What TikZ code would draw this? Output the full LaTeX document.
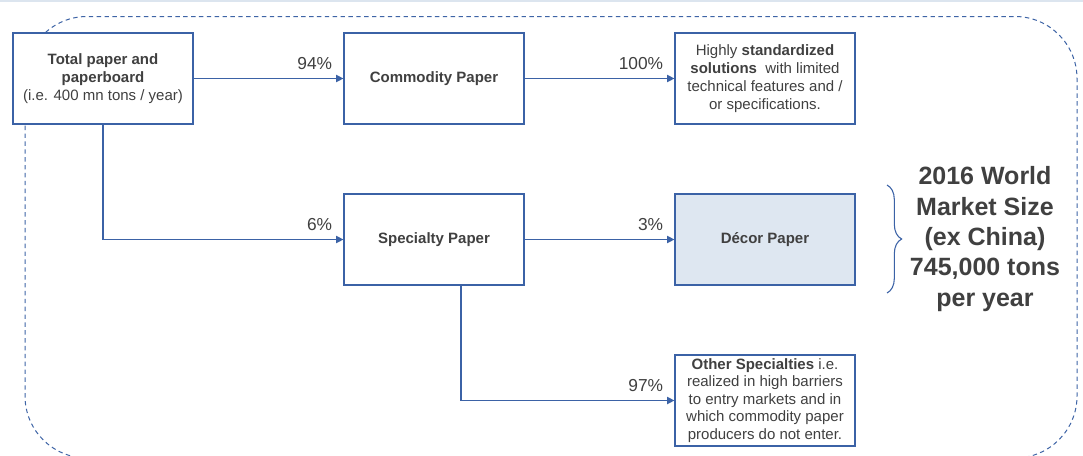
\documentclass[tikz,border=0pt]{standalone}
\usepackage{fontspec}
\setmainfont{Liberation Sans}
\usetikzlibrary{arrows.meta,decorations.pathreplacing}
\definecolor{lineblue}{HTML}{3B62A6}
\definecolor{dashblue}{HTML}{3E64A6}
\definecolor{txtgray}{HTML}{404040}
\definecolor{decorfill}{HTML}{DEE7F1}
\definecolor{topline}{HTML}{DCE5EF}
\tikzset{
  x=0.75pt, y=-0.75pt,
  boxnode/.style={draw=lineblue, line width=0.9pt, fill=white, minimum width=135pt, minimum height=68.25pt,
    inner sep=2pt, align=center, text=txtgray, font=\fontsize{11.25}{13.5}\selectfont},
  conn/.style={draw=lineblue, line width=0.9pt, -{Triangle[length=5.5pt,width=5.5pt]}},
  pct/.style={text=txtgray, font=\fontsize{13}{15}\selectfont, inner sep=0pt, anchor=base east},
}
\begin{document}
\begin{tikzpicture}
\useasboundingbox (0,0) rectangle (1083,455);
\clip (0,0) rectangle (1083,455);
\fill[white] (0,0) rectangle (1083,455);
\draw[topline, line width=1.2pt] (0,0.8) -- (1083,0.8);
% dashed outline
\draw[dashblue, line width=0.75pt, dash pattern=on 3.3pt off 2.6pt, rounded corners=46.5pt] (25,16.5) rectangle (1077,458);
% boxes
\node[boxnode] (total) at (103,78.5) {\textbf{Total paper and}\\\textbf{paperboard}\\(i.e. 400 mn tons / year)};
\node[boxnode] (commodity) at (434,78.5) {\textbf{Commodity Paper}};
\node[boxnode] (highly) at (765,78.5) {Highly \textbf{standardized}\\\textbf{solutions}\ \ with limited\\technical features and /\\or specifications.};
\node[boxnode] (specialty) at (434,239.5) {\textbf{Specialty Paper}};
\node[boxnode, fill=decorfill] (decor) at (765,239.5) {\textbf{Décor Paper}};
\node[boxnode, font=\fontsize{11.25}{13.1}\selectfont, inner sep=1pt] (other) at (765,400.5) {\textbf{Other Specialties} i.e.\\realized in high barriers\\to entry markets and in\\which commodity paper\\producers do not enter.};
% connectors
\draw[conn] (total.east) -- (commodity.west);
\draw[conn] (commodity.east) -- (highly.west);
\draw[conn] (total.south) |- (specialty.west);
\draw[conn] (specialty.east) -- (decor.west);
\coordinate (spout) at ([xshift=20.25pt]specialty.south);
\draw[conn] (spout) |- (other.west);
% labels
\node[pct] (p94) at ([xshift=-8.25pt,yshift=6.75pt]commodity.west) {94\%};
\node[pct] (p100) at ([xshift=-8.25pt,yshift=6.75pt]highly.west) {100\%};
\node[pct] (p6) at ([xshift=-8.25pt,yshift=6.75pt]specialty.west) {6\%};
\node[pct] (p3) at ([xshift=-8.25pt,yshift=6.75pt]decor.west) {3\%};
\node[pct] (p97) at ([xshift=-8.25pt,yshift=6.75pt]other.west) {97\%};
% brace
\coordinate (bt) at (887,185);
\coordinate (bb) at (887,293);
\draw[lineblue, line width=0.8pt, decorate, decoration={brace, amplitude=11pt}] (bt) -- (bb);
\node[text=txtgray, align=center, font=\fontsize{18.75}{22.8}\selectfont\bfseries] (market) at (985,239) {2016 World\\Market Size\\(ex China)\\745,000 tons\\per year};
\end{tikzpicture}
\end{document}
